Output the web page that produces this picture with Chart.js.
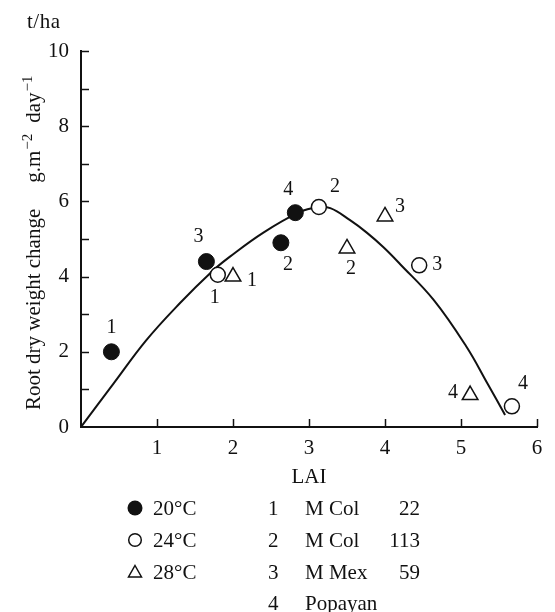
<!DOCTYPE html>
<html>
<head>
<title>Root dry weight change vs LAI</title>
<script src="https://cdn.jsdelivr.net/npm/chart.js"></script>
<style>
  body {
    margin: 0;
    background: #fff;
    font-family: "Liberation Serif", "Times New Roman", serif;
    color: #111;
  }
  .wrap {
    position: relative;
    width: 555px;
    height: 612px;
    overflow: hidden;
  }
  #chart {
    position: absolute;
    left: 0;
    top: 0;
  }
  .unit {
    position: absolute;
    left: 27px;
    top: 9px;
    font-size: 21px;
    letter-spacing: 0.5px;
  }
  .leg {
    position: absolute;
    font-size: 21px;
    line-height: 24px;
    white-space: nowrap;
  }
  .leg svg {
    position: absolute;
  }
  .num {
    text-align: right;
    width: 50px;
  }
</style>
</head>
<body>
<div class="wrap">
  <canvas id="chart" width="555" height="500"></canvas>
  <div class="unit">t/ha</div>

  <div class="leg" style="left:127px;top:496px;">
    <svg width="18" height="18" style="left:0;top:3px;"><circle cx="8" cy="9" r="7.5" fill="#111"/></svg>
    <span style="margin-left:26px;">20°C</span>
  </div>
  <div class="leg" style="left:127px;top:528px;">
    <svg width="18" height="18" style="left:0;top:3px;"><circle cx="8" cy="9" r="6.3" fill="none" stroke="#111" stroke-width="1.5"/></svg>
    <span style="margin-left:26px;">24°C</span>
  </div>
  <div class="leg" style="left:127px;top:560px;">
    <svg width="18" height="18" style="left:0;top:3px;"><polygon points="8,2.5 14.5,14 1.5,14" fill="none" stroke="#111" stroke-width="1.5"/></svg>
    <span style="margin-left:26px;">28°C</span>
  </div>

  <div class="leg" style="left:268px;top:496px;">1</div>
  <div class="leg" style="left:268px;top:528px;">2</div>
  <div class="leg" style="left:268px;top:560px;">3</div>
  <div class="leg" style="left:268px;top:591px;">4</div>
  <div class="leg" style="left:305px;top:496px;">M Col</div>
  <div class="leg" style="left:305px;top:528px;">M Col</div>
  <div class="leg" style="left:305px;top:560px;">M Mex</div>
  <div class="leg" style="left:305px;top:591px;">Popayan</div>
  <div class="leg num" style="left:370px;top:496px;">22</div>
  <div class="leg num" style="left:370px;top:528px;">113</div>
  <div class="leg num" style="left:370px;top:560px;">59</div>
</div>
<script>
  // points (LAI, root dry weight change)
  const lai20 = [0.4, 1.65, 2.63, 2.82];
  const rdw20 = [2.0, 4.4, 4.9, 5.7];
  const cult20 = ["1", "3", "2", "4"];

  const lai24 = [1.8, 3.13, 4.45, 5.67];
  const rdw24 = [4.05, 5.85, 4.3, 0.55];
  const cult24 = ["1", "2", "3", "4"];

  const lai28 = [2.0, 3.5, 4.0, 5.12];
  const rdw28 = [4.0, 4.75, 5.6, 0.85];
  const cult28 = ["1", "2", "3", "4"];

  // fitted curve
  const curveLai = [0, 0.43, 0.86, 1.3, 1.72, 1.96, 2.4, 2.88, 3.1, 3.28, 3.54, 3.76, 3.98, 4.2, 4.64, 5.07, 5.35, 5.58];
  const curveRdw = [0, 1.16, 2.31, 3.29, 4.13, 4.53, 5.17, 5.72, 5.84, 5.82, 5.5, 5.17, 4.78, 4.33, 3.38, 2.14, 1.15, 0.32];

  const xTickLabels = [1, 2, 3, 4, 5, 6];
  const yTickLabels = [0, 2, 4, 6, 8, 10];

  // label offsets in pixels (where the cultivar number sits next to its mark)
  const off20 = [[0, -24], [-8, -25], [7, 22], [-7, -23]];
  const off24 = [[-3, 23], [16, -20], [18, -1], [11, -23]];
  const off28 = [[19, 4], [4, 20], [15, -10], [-17, -2]];

  const ink = "#111";
  const serif = "'Liberation Serif', 'Times New Roman', serif";

  function pts(xs, ys) {
    return xs.map(function (x, i) {
      return { x: x, y: ys[i] };
    });
  }

  const inwardTicks = {
    id: "inwardTicks",
    afterDraw(chart) {
      const ctx = chart.ctx;
      const area = chart.chartArea;
      const x = chart.scales.x;
      const y = chart.scales.y;
      ctx.save();
      ctx.strokeStyle = ink;
      ctx.lineWidth = 1.5;
      x.ticks.forEach(function (t) {
        if (t.value === 0) return;
        const px = Math.round(x.getPixelForValue(t.value)) + 0.5;
        ctx.beginPath();
        ctx.moveTo(px, area.bottom);
        ctx.lineTo(px, area.bottom - 8);
        ctx.stroke();
      });
      y.ticks.forEach(function (t) {
        if (t.value === 0) return;
        const py = Math.round(y.getPixelForValue(t.value)) + 0.5;
        ctx.beginPath();
        ctx.moveTo(area.left, py);
        ctx.lineTo(area.left + 8, py);
        ctx.stroke();
      });
      ctx.restore();
    },
  };

  // y title with real superscripts
  const yTitle = {
    id: "yTitle",
    afterDraw(chart) {
      const ctx = chart.ctx;
      const parts = [
        ["Root dry weight change", 21, 0, 26],
        ["g.m", 21, 0, 1],
        ["\u22122", 15, 8, 11],
        ["day", 21, 0, 1],
        ["\u22121", 15, 8, 0],
      ];
      ctx.save();
      ctx.translate(40, 410);
      ctx.rotate(-Math.PI / 2);
      ctx.fillStyle = ink;
      ctx.textBaseline = "alphabetic";
      ctx.textAlign = "left";
      let pos = 0;
      parts.forEach(function (p) {
        ctx.font = p[1] + "px " + serif;
        ctx.fillText(p[0], pos, -p[2]);
        pos += ctx.measureText(p[0]).width + p[3];
      });
      ctx.restore();
    },
  };

  const pointNumbers = {
    id: "pointNumbers",
    afterDatasetsDraw(chart) {
      const ctx = chart.ctx;
      ctx.save();
      ctx.fillStyle = ink;
      ctx.font = "20px " + serif;
      ctx.textAlign = "center";
      ctx.textBaseline = "middle";
      chart.data.datasets.forEach(function (ds, i) {
        if (!ds.cultivar) return;
        const meta = chart.getDatasetMeta(i);
        meta.data.forEach(function (el, j) {
          const o = ds.offsets[j];
          ctx.fillText(ds.cultivar[j], el.x + o[0], el.y + o[1]);
        });
      });
      ctx.restore();
    },
  };

  new Chart(document.getElementById("chart"), {
    type: "scatter",
    data: {
      datasets: [
        {
          label: "20°C",
          data: pts(lai20, rdw20),
          pointStyle: "circle",
          pointRadius: 8,
          backgroundColor: ink,
          borderColor: ink,
          borderWidth: 1,
          cultivar: cult20,
          offsets: off20,
        },
        {
          label: "24°C",
          data: pts(lai24, rdw24),
          pointStyle: "circle",
          pointRadius: 7.5,
          backgroundColor: "#fff",
          borderColor: ink,
          borderWidth: 1.5,
          cultivar: cult24,
          offsets: off24,
        },
        {
          label: "28°C",
          data: pts(lai28, rdw28),
          pointStyle: "triangle",
          pointRadius: 9,
          backgroundColor: "rgba(255,255,255,0)",
          borderColor: ink,
          borderWidth: 1.5,
          cultivar: cult28,
          offsets: off28,
        },
        {
          label: "fit",
          data: pts(curveLai, curveRdw),
          showLine: true,
          pointRadius: 0,
          borderColor: ink,
          borderWidth: 2,
          tension: 0.4,
          fill: false,
        },
      ],
    },
    options: {
      responsive: false,
      animation: false,
      layout: { padding: { left: 0, top: 51, right: 18, bottom: 0 } },
      plugins: {
        legend: { display: false },
        tooltip: { enabled: false },
      },
      scales: {
        x: {
          type: "linear",
          min: 0,
          max: 6,
          grid: { display: false, drawTicks: false },
          border: { display: true, color: ink, width: 2 },
          ticks: {
            stepSize: 1,
            padding: 9,
            color: ink,
            font: { family: serif, size: 21 },
            callback: function (v) {
              return xTickLabels.includes(v) ? v : "";
            },
          },
          title: {
            display: true,
            text: "LAI",
            color: ink,
            font: { family: serif, size: 21 },
            padding: { top: 0, bottom: 10 },
          },
          afterFit: function (s) {
            s.height = 73;
          },
        },
        y: {
          min: 0,
          max: 10,
          grid: { display: false, drawTicks: false },
          border: { display: true, color: ink, width: 2 },
          ticks: {
            stepSize: 1,
            padding: 12,
            color: ink,
            font: { family: serif, size: 21 },
            callback: function (v) {
              return yTickLabels.includes(v) ? v : "";
            },
          },
          afterFit: function (s) {
            s.width = 81;
          },
        },
      },
    },
    plugins: [inwardTicks, yTitle, pointNumbers],
  });
</script>
</body>
</html>
